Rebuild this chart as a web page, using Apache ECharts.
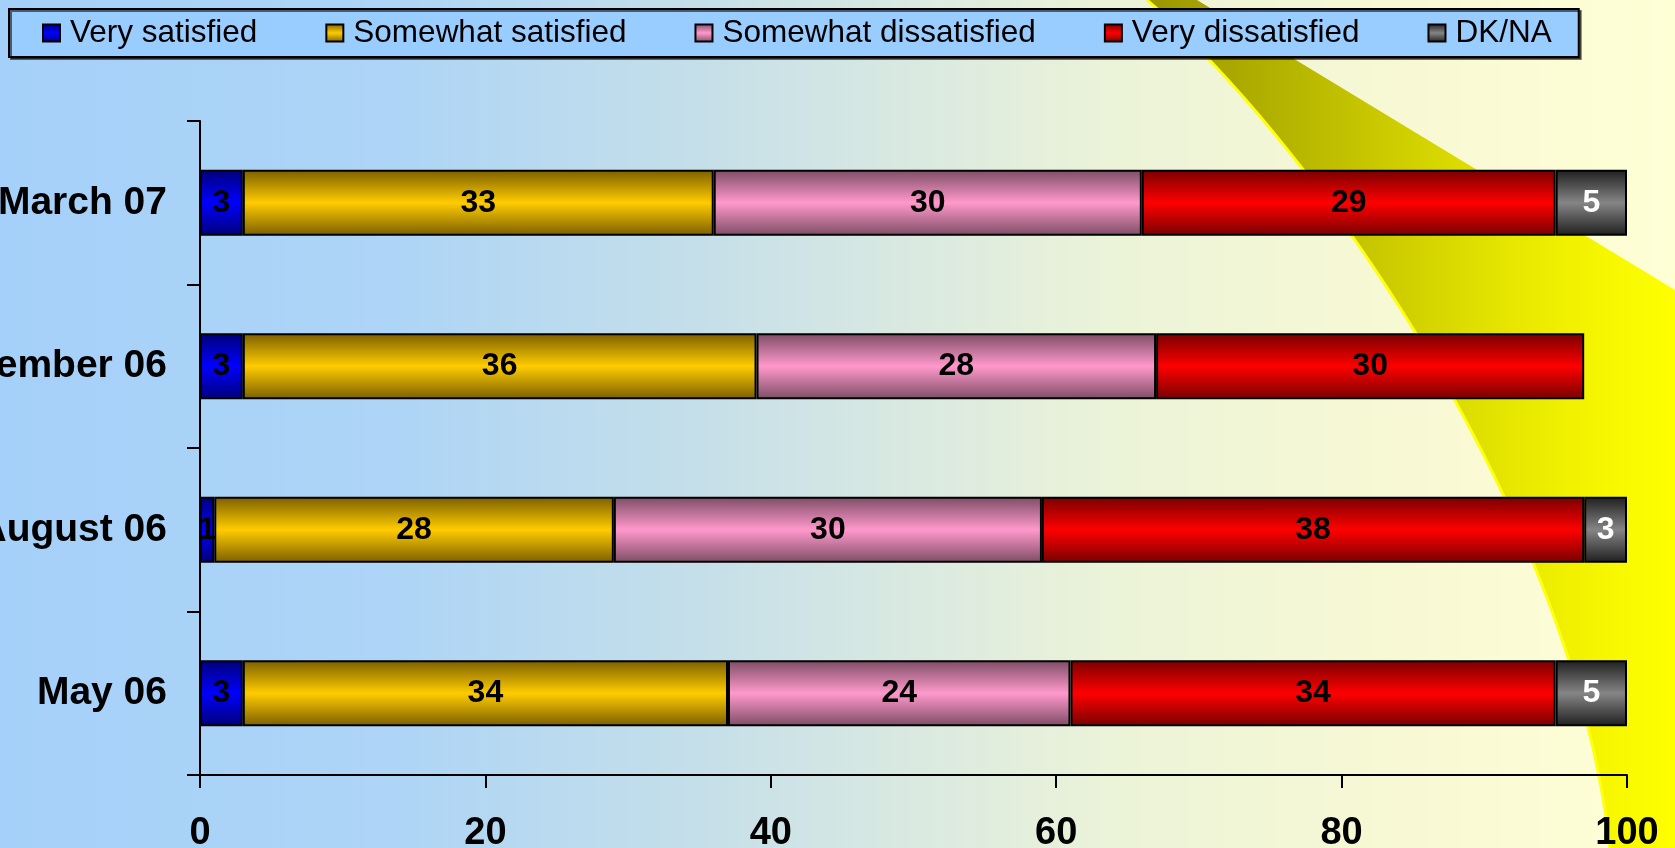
<!DOCTYPE html>
<html>
<head>
<meta charset="utf-8">
<script src="https://cdn.jsdelivr.net/npm/echarts@6/dist/echarts.min.js"></script>
<style>
    html, body {margin: 0; padding: 0; overflow: hidden;}
    #satisfaction-chart {width: 1675px; height: 848px;}
</style>
</head>
<body>
<div id="satisfaction-chart"></div>
<script>
//----------------------Data----------------------
// bottom to top, the way ECharts lays out a category y axis
let survey_periods = ['May 06', 'August 06', 'November 06', 'March 07'];
let very_satisfied = [3, 1, 3, 3];
let somewhat_satisfied = [34, 28, 36, 33];
let somewhat_dissatisfied = [24, 30, 28, 30];
let very_dissatisfied = [34, 38, 30, 29];
let dk_na = [5, 3, null, 5];
let x_ticks = [0, 20, 40, 60, 80, 100];

// Get dom in html
let satisfaction_chart_dom = document.getElementById("satisfaction-chart");
let satisfaction_chart = echarts.init(satisfaction_chart_dom);

let chart_font = "'Liberation Sans', Arial, sans-serif";

// dark edge -> bright middle -> dark edge, like the old office 3d bars
function bar_fill(edge, middle) {
    return {
        type: 'linear', x: 0, y: 0, x2: 0, y2: 1,
        colorStops: [
            {offset: 0, color: edge},
            {offset: 0.5, color: middle},
            {offset: 1, color: edge}
        ]
    };
}

//---------------------Series---------------------
let series_setup = [
    {name: 'Very satisfied', data: very_satisfied, edge: '#000078', middle: '#0000ff', text: '#000'},
    {name: 'Somewhat satisfied', data: somewhat_satisfied, edge: '#7a5e00', middle: '#ffcc00', text: '#000'},
    {name: 'Somewhat dissatisfied', data: somewhat_dissatisfied, edge: '#7c4c64', middle: '#ff99cc', text: '#000'},
    {name: 'Very dissatisfied', data: very_dissatisfied, edge: '#780000', middle: '#ff0000', text: '#000'},
    {name: 'DK/NA', data: dk_na, edge: '#1e1e1e', middle: '#858585', text: '#fff'}
];

let satisfaction_series = [];
for (let i = 0; i < series_setup.length; i++) {
    let s = series_setup[i];
    satisfaction_series.push({
        type: 'bar',
        name: s.name,
        stack: 'total',
        barWidth: 66,
        data: s.data,
        itemStyle: {
            color: bar_fill(s.edge, s.middle),
            borderColor: '#000',
            borderWidth: 2
        },
        label: {
            show: true,
            position: 'inside',
            color: s.text,
            fontFamily: chart_font,
            fontWeight: 'bold',
            fontSize: 32,
            formatter: function (p) { return p.value ? p.value : ''; }
        },
        emphasis: {disabled: true}
    });
}

//------------------Background------------------
// left edge of the yellow swoosh, a cubic curve sampled into points
function swoosh_edge() {
    let p0 = [1147, 0], c1 = [1320, 150], c2 = [1575, 520], p3 = [1610, 848];
    let pts = [];
    for (let k = 0; k <= 40; k++) {
        let t = k / 40, u = 1 - t;
        let a = u * u * u, b = 3 * u * u * t, c = 3 * u * t * t, d = t * t * t;
        pts.push([
            a * p0[0] + b * c1[0] + c * c2[0] + d * p3[0],
            a * p0[1] + b * c1[1] + c * c2[1] + d * p3[1]
        ]);
    }
    return pts;
}
let swoosh_curve = swoosh_edge();
let swoosh_shape = swoosh_curve.concat([[1675, 848], [1675, 290], [1197, 0]]);

let background_graphic = [
    {
        type: 'rect',
        z: -10,
        shape: {x: 0, y: 0, width: 1675, height: 848},
        style: {
            fill: {
                type: 'linear', x: 0, y: 0, x2: 1, y2: 0,
                colorStops: [
                    {offset: 0, color: '#a5d0f9'},
                    {offset: 0.24, color: '#aed5f6'},
                    {offset: 0.42, color: '#c5dfe9'},
                    {offset: 0.54, color: '#d9e9e1'},
                    {offset: 0.66, color: '#ebf3d8'},
                    {offset: 0.84, color: '#f8f9d4'},
                    {offset: 1, color: '#ffffd6'}
                ]
            }
        }
    },
    // yellow swoosh on the right
    {
        type: 'polygon',
        z: -5,
        shape: {points: swoosh_shape},
        style: {
            fill: {
                type: 'linear', x: 1147, y: 0, x2: 1675, y2: 0, global: true,
                colorStops: [
                    {offset: 0, color: '#999600'},
                    {offset: 0.3, color: '#b9b800'},
                    {offset: 0.52, color: '#d3d300'},
                    {offset: 0.7, color: '#e8e800'},
                    {offset: 0.86, color: '#f6f600'},
                    {offset: 1, color: '#ffff00'}
                ]
            }
        }
    },
    {
        type: 'polyline',
        z: -4,
        shape: {points: swoosh_curve},
        style: {fill: null, stroke: '#ffff10', lineWidth: 3}
    }
];

//------------------Generate Graph------------------
let satisfaction_option = {
    animation: false,
    textStyle: {fontFamily: chart_font},
    graphic: background_graphic,
    legend: {
        left: 9,
        top: 9,
        padding: [8, 27, 8, 33],
        itemGap: 68,
        itemWidth: 17,
        itemHeight: 17,
        icon: 'rect',
        backgroundColor: '#99ccff',
        borderColor: '#000',
        borderWidth: 2,
        shadowColor: 'rgba(0,0,0,0.55)',
        shadowOffsetX: 2,
        shadowOffsetY: 2,
        textStyle: {fontSize: 31.5, color: '#000', fontFamily: chart_font, padding: [0, 0, 0, 5]},
        data: series_setup.map(function (s) { return s.name; })
    },
    grid: {left: 200, right: 48, top: 121, bottom: 73, containLabel: false, outerBoundsMode: 'none'},
    xAxis: {
        type: 'value',
        min: x_ticks[0],
        max: x_ticks[x_ticks.length - 1],
        interval: x_ticks[1] - x_ticks[0],
        splitLine: {show: false},
        axisLine: {show: true, lineStyle: {color: '#000', width: 2}},
        axisTick: {show: true, length: 13, lineStyle: {color: '#000', width: 2}},
        axisLabel: {fontSize: 38, fontWeight: 'bold', color: '#000', margin: 40}
    },
    yAxis: {
        type: 'category',
        data: survey_periods,
        axisLine: {show: true, lineStyle: {color: '#000', width: 2}},
        axisTick: {show: true, length: 13, lineStyle: {color: '#000', width: 2}},
        axisLabel: {fontSize: 39, fontWeight: 'bold', color: '#000', margin: 33}
    },
    series: satisfaction_series
};
satisfaction_chart.setOption(satisfaction_option, true);
</script>
</body>
</html>
